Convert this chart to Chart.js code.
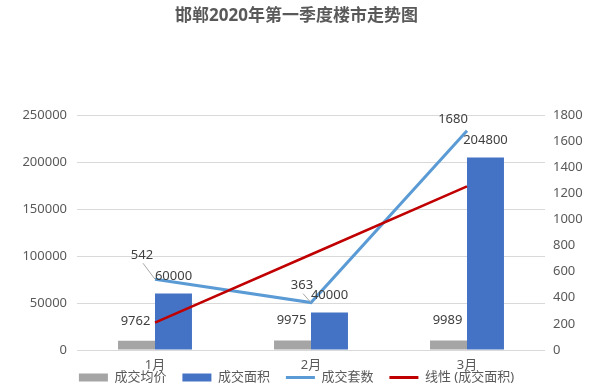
<!DOCTYPE html>
<html>
<head>
<meta charset="utf-8">
<script src="https://cdn.jsdelivr.net/npm/chart.js@4/dist/chart.umd.min.js"></script>
<style>
  body { margin: 0; background: #fff; }
  #wrap { width: 593px; height: 385px; }
</style>
</head>
<body>
<div id="wrap"><canvas id="trendChart"></canvas></div>
<script>
const categories = ['1月', '2月', '3月'];
const avgPrice = [9762, 9975, 9989];          // 成交均价
const dealArea = [60000, 40000, 204800];      // 成交面积
const dealUnits = [542, 363, 1680];           // 成交套数
const areaTrend = [29200, 101600, 174000];    // 线性 (成交面积)
const leftMax = 250000, leftStep = 50000;
const rightMax = 1800, rightStep = 200;

const FONT = "'Noto Sans', 'Noto Sans CJK SC', sans-serif";

// offsets for the 成交套数 labels, Excel put them up-left of the points
const unitLabelOffsets = [[-13, -24], [-9, -17], [-14, -11]];

const valueLabels = {
    id: 'valueLabels',
    beforeDraw(chart) {
        // x labels overlap the legend like in Excel, so don't clip them to the axis box
        chart.scales.x._computeLabelArea = () => undefined;
    },
    afterDatasetsDraw(chart) {
        const ctx = chart.ctx;
        ctx.save();
        ctx.font = '13px ' + FONT;
        ctx.fillStyle = '#404040';
        ctx.textAlign = 'center';
        ctx.textBaseline = 'middle';
        chart.getDatasetMeta(0).data.forEach((el, i) => {
            ctx.fillText(avgPrice[i], el.x - 1, el.y - 20);
        });
        chart.getDatasetMeta(1).data.forEach((el, i) => {
            ctx.fillText(dealArea[i], el.x, el.y - 17);
        });
        chart.getDatasetMeta(2).data.forEach((el, i) => {
            const [dx, dy] = unitLabelOffsets[i];
            const tx = el.x + dx, ty = el.y + dy;
            if (i < 2) {
                ctx.strokeStyle = '#a6a6a6';
                ctx.lineWidth = 1;
                ctx.beginPath();
                ctx.moveTo(tx + 1, ty + 8);
                ctx.lineTo(el.x, el.y);
                ctx.stroke();
            }
            ctx.fillText(dealUnits[i], tx, ty);
        });
        ctx.restore();
    }
};

new Chart(document.getElementById('trendChart'), {
    data: {
        labels: categories,
        datasets: [{
            type: 'bar',
            label: '成交均价',
            data: avgPrice,
            backgroundColor: '#a5a5a5',
            yAxisID: 'y',
            order: 3
        }, {
            type: 'bar',
            label: '成交面积',
            data: dealArea,
            backgroundColor: '#4472c4',
            yAxisID: 'y',
            order: 3
        }, {
            type: 'line',
            label: '成交套数',
            data: dealUnits,
            borderColor: '#5b9bd5',
            backgroundColor: '#5b9bd5',
            borderWidth: 3,
            pointRadius: 0,
            tension: 0,
            yAxisID: 'y1',
            order: 2
        }, {
            type: 'line',
            label: '线性 (成交面积)',
            data: areaTrend,
            borderColor: '#c00000',
            backgroundColor: '#c00000',
            borderWidth: 2.5,
            pointRadius: 0,
            tension: 0,
            yAxisID: 'y',
            order: 1
        }]
    },
    options: {
        responsive: true,
        maintainAspectRatio: false,
        animation: false,
        layout: { padding: 0 },
        datasets: {
            bar: { categoryPercentage: 0.474, barPercentage: 1 }
        },
        plugins: {
            title: {
                display: true,
                text: '邯郸2020年第一季度楼市走势图',
                color: '#595959',
                font: { family: FONT, size: 17, weight: 'bold' },
                padding: { top: 6, bottom: 88.6 }
            },
            legend: {
                position: 'bottom',
                maxHeight: 30,
                labels: {
                    color: '#595959',
                    font: { family: FONT, size: 13 },
                    usePointStyle: true,
                    pointStyleWidth: 29,
                    boxHeight: 8,
                    padding: 16,
                    sort: (a, b) => a.datasetIndex - b.datasetIndex,
                    generateLabels(chart) {
                        const items = Chart.defaults.plugins.legend.labels.generateLabels(chart);
                        items.forEach(it => {
                            const ds = chart.data.datasets[it.datasetIndex];
                            if (ds.type === 'line') {
                                it.pointStyle = 'line';
                                it.strokeStyle = ds.borderColor;
                                it.lineWidth = 3;
                            } else {
                                it.pointStyle = 'rect';
                                it.lineWidth = 0;
                            }
                        });
                        return items;
                    }
                }
            },
            tooltip: { enabled: false }
        },
        scales: {
            x: {
                grid: { display: false, drawTicks: false },
                border: { display: false },
                ticks: { color: '#595959', font: { family: FONT, size: 13 }, padding: 7 },
                afterFit(s) { s.height = 5; }
            },
            y: {
                position: 'left',
                min: 0,
                max: leftMax,
                ticks: {
                    stepSize: leftStep,
                    color: '#595959',
                    font: { family: FONT, size: 13 },
                    padding: 10,
                    callback: v => String(v)
                },
                grid: { color: '#d9d9d9', drawTicks: false },
                border: { display: false },
                afterFit(s) { s.width = 77; }
            },
            y1: {
                position: 'right',
                min: 0,
                max: rightMax,
                ticks: {
                    stepSize: rightStep,
                    color: '#595959',
                    font: { family: FONT, size: 13 },
                    padding: 8,
                    callback: v => String(v)
                },
                grid: { display: false, drawTicks: false },
                border: { display: false },
                afterFit(s) { s.width = 48; }
            }
        }
    },
    plugins: [valueLabels]
});
</script>
</body>
</html>
